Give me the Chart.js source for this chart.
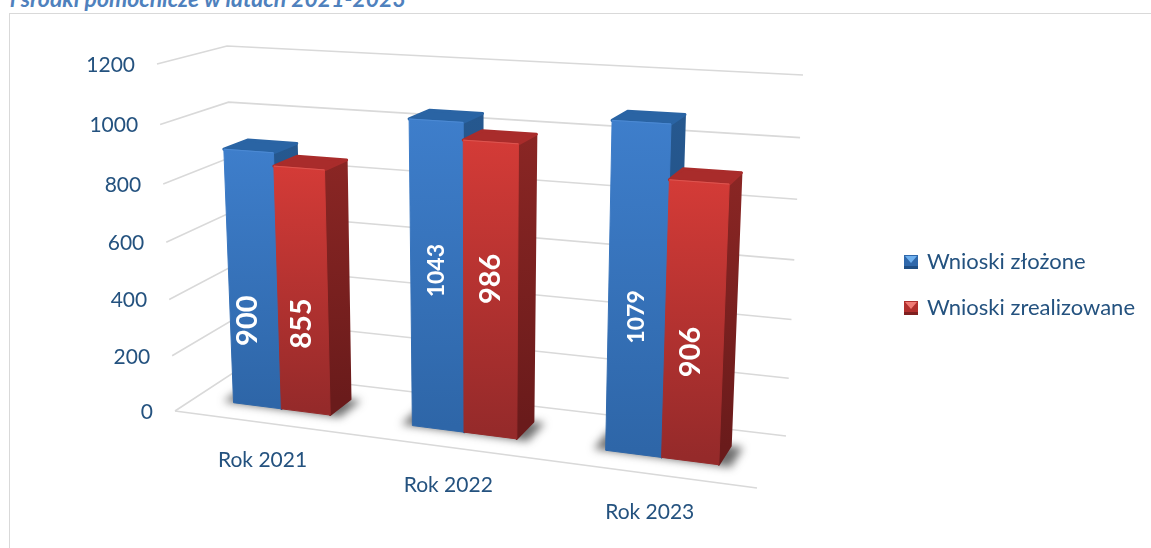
<!DOCTYPE html>
<html lang="pl">
<head>
    <meta charset="UTF-8">
    <title>Wnioski 2021-2023</title>
    <script src="https://cdn.jsdelivr.net/npm/chart.js@4/dist/chart.umd.min.js"></script>
    <style>
      html, body { margin: 0; padding: 0; width: 1151px; height: 548px; overflow: hidden; background: #fff; }
      #heading { position: absolute; left: 10px; top: -16px; font: italic bold 23px Lato, sans-serif; color: #4f81bd; white-space: nowrap; }
      #frame { position: absolute; left: 9px; top: 13px; width: 1160px; height: 560px; border: 1.5px solid #d9d9d9; }
      #chart { position: absolute; left: 0; top: 0; }
    </style>
</head>
<body>
  <div id="heading">i środki pomocnicze w latach 2021-2023</div>
  <div id="frame"></div>
  <canvas id="chart" width="1151" height="548"></canvas>

  <script>
    /* Chart data. */
    const categories = ["Rok 2021", "Rok 2022", "Rok 2023"]
    const seriesNames = ["Wnioski złożone", "Wnioski zrealizowane"]
    const submitted = [900, 1043, 1079]
    const completed = [855, 986, 906]
    const yTicks = [0, 200, 400, 600, 800, 1000, 1200]

    /* Where each value label sits on its bar (share of height, shift in bar widths). */
    const labelShare = [[0.34, 0.525, 0.425], [0.37, 0.545, 0.4]]
    const labelShift = [[-0.13, 0, 0], [-0.03, 0, -0.05]]
    const labelSize = [[29, 23, 23], [29, 29, 29]]

    /* The corners of the 3D box as seen in the picture. */
    const backQuad = [[236, 371], [786, 436], [803, 75], [227, 46]]
    const frontQuad = [[175, 411], [757, 488], [774, 98], [157, 64]]
    const barFront = 0.33
    const barBack = 0.7

    const colors = [
      { top: "#2a64a4", side: ["#26588f", "#1f4d80"], face: ["#3e7ecb", "#2e66a8"], edge: "#4c8ad4" },
      { top: "#a92c2b", side: ["#8a2624", "#6a1b1b"], face: ["#d43b37", "#952a2a"], edge: "#dd5550" }
    ]

    /* Homography from the unit square to a quad. */
    function makeHomography(q) {
      const [[x0, y0], [x1, y1], [x2, y2], [x3, y3]] = q
      const dx1 = x1 - x2, dx2 = x3 - x2, sx = x0 - x1 + x2 - x3
      const dy1 = y1 - y2, dy2 = y3 - y2, sy = y0 - y1 + y2 - y3
      const det = dx1 * dy2 - dx2 * dy1
      const g = (sx * dy2 - dx2 * sy) / det
      const h = (dx1 * sy - sx * dy1) / det
      const a = x1 - x0 + g * x1, b = x3 - x0 + h * x3
      const d = y1 - y0 + g * y1, e = y3 - y0 + h * y3
      return (u, v) => {
        const w = g * u + h * v + 1
        return [(a * u + b * v + x0) / w, (d * u + e * v + y0) / w]
      }
    }
    const backPlane = makeHomography(backQuad)
    const frontPlane = makeHomography(frontQuad)

    /* u: along categories, v: along values, d: 0 front of floor, 1 back wall. */
    function project(u, v, d) {
      const f = frontPlane(u, v), b = backPlane(u, v)
      return [f[0] + (b[0] - f[0]) * d, f[1] + (b[1] - f[1]) * d]
    }

    function polygon(ctx, points) {
      ctx.beginPath()
      points.forEach((p, i) => i ? ctx.lineTo(p[0], p[1]) : ctx.moveTo(p[0], p[1]))
      ctx.closePath()
    }

    function fillFace(ctx, points, fill, round) {
      polygon(ctx, points)
      ctx.fillStyle = fill
      ctx.strokeStyle = fill
      ctx.lineWidth = round
      ctx.lineJoin = "round"
      ctx.fill()
      ctx.stroke()
    }

    function verticalFill(ctx, top, bottom, stops) {
      const g = ctx.createLinearGradient(0, top, 0, bottom)
      g.addColorStop(0, stops[0])
      g.addColorStop(1, stops[1])
      return g
    }

    /* Small bevelled square for the legend. */
    function legendIcon(light, mid, dark) {
      const c = document.createElement("canvas")
      c.width = 14
      c.height = 14
      const x = c.getContext("2d")
      x.fillStyle = mid
      x.fillRect(0, 0, 14, 14)
      x.fillStyle = dark
      x.fillRect(0, 11, 14, 3)
      x.fillStyle = light
      x.beginPath()
      x.moveTo(1, 1)
      x.lineTo(13, 1)
      x.lineTo(7, 8)
      x.closePath()
      x.fill()
      return c
    }

    /* Gridlines and axis text, worked out from the chart's own scales. */
    const boxFloor = {
      id: "boxFloor",
      beforeDatasetsDraw(chart) {
        const ctx = chart.ctx, area = chart.chartArea, yScale = chart.scales.y, xScale = chart.scales.x
        const vOf = tick => (area.bottom - yScale.getPixelForValue(tick)) / area.height
        ctx.save()
        ctx.strokeStyle = "#d9d9d9"
        ctx.lineWidth = 1.6
        yScale.ticks.forEach(t => {
          const v = vOf(t.value)
          const a = project(0, v, 0), b = project(0, v, 1), c = project(1, v, 1)
          ctx.beginPath()
          ctx.moveTo(a[0], a[1])
          ctx.lineTo(b[0], b[1])
          ctx.lineTo(c[0], c[1])
          ctx.stroke()
        })
        const f0 = project(0, 0, 0), f1 = project(1, 0, 0)
        ctx.beginPath()
        ctx.moveTo(f0[0], f0[1])
        ctx.lineTo(f1[0], f1[1])
        ctx.stroke()

        ctx.fillStyle = "#24527f"
        ctx.font = "21px Lato, sans-serif"
        ctx.textAlign = "right"
        ctx.textBaseline = "middle"
        yScale.ticks.forEach(t => {
          const p = project(0, vOf(t.value), 0)
          ctx.fillText(String(t.value), p[0] - 22, p[1] + 1)
        })
        ctx.font = "21px Lato, sans-serif"
        ctx.textAlign = "center"
        categories.forEach((name, i) => {
          const p = project((xScale.getPixelForValue(i) - area.left) / area.width, 0, 0)
          ctx.fillText(name, p[0], p[1] + 38)
        })

        /* Soft shadow under every pair of bars. */
        const first = chart.getDatasetMeta(0).data, second = chart.getDatasetMeta(1).data
        ctx.filter = "blur(4px)"
        ctx.fillStyle = "rgba(50,50,50,0.7)"
        first.forEach((bar, i) => {
          const u0 = (bar.x - bar.width / 2 - area.left) / area.width - 0.02
          const u1 = (second[i].x + second[i].width / 2 - area.left) / area.width + 0.02
          polygon(ctx, [project(u0, 0, barFront), project(u1, 0, barFront - 0.02), project(u1, 0, barBack), project(u0, 0, barBack)])
          ctx.fill()
        })
        ctx.restore()
      }
    }

    /* The bars as boxes, from the positions of the chart's bar elements. */
    const boxBars = {
      id: "boxBars",
      afterDatasetsDraw(chart) {
        const ctx = chart.ctx, area = chart.chartArea
        ctx.save()
        chart.data.datasets.forEach((set, s) => {
          chart.getDatasetMeta(s).data.forEach((bar, i) => {
            const u0 = (bar.x - bar.width / 2 - area.left) / area.width
            const u1 = (bar.x + bar.width / 2 - area.left) / area.width
            const v = (bar.base - bar.y) / area.height
            const c = colors[s]
            const fb = project(u0, 0, barFront), fr = project(u1, 0, barFront)
            const tl = project(u0, v, barFront), tr = project(u1, v, barFront)
            const bt = project(u0, v, barBack), br = project(u1, v, barBack), bb = project(u1, 0, barBack)

            fillFace(ctx, [tr, br, bb, fr], verticalFill(ctx, br[1], bb[1], c.side), 2)
            fillFace(ctx, [tl, tr, br, bt], c.top, 3)
            fillFace(ctx, [fb, fr, tr, tl], verticalFill(ctx, tl[1], fb[1], c.face), 1)

            ctx.strokeStyle = c.edge
            ctx.lineWidth = 1
            ctx.beginPath()
            ctx.moveTo(tl[0], tl[1])
            ctx.lineTo(tr[0], tr[1])
            ctx.stroke()

            /* Rotated white value label. */
            const uMid = (u0 + u1) / 2 + (u1 - u0) * labelShift[s][i]
            const at = project(uMid, v * labelShare[s][i], barFront)
            ctx.save()
            ctx.translate(at[0], at[1])
            ctx.rotate(-Math.PI / 2)
            ctx.fillStyle = "#fff"
            ctx.font = "bold " + labelSize[s][i] + "px Lato, sans-serif"
            ctx.textAlign = "center"
            ctx.textBaseline = "middle"
            ctx.fillText(String(set.data[i]), 0, 0)
            ctx.restore()
          })
        })
        ctx.restore()
      }
    }

    const ctx = document.getElementById("chart").getContext("2d")
    const myChart = new Chart(ctx, {
      type: "bar",
      data: {
        labels: categories,
        datasets: [
          { label: seriesNames[0], data: submitted, backgroundColor: "rgba(0,0,0,0)", pointStyle: legendIcon("#6fb0ee", "#2f68ab", "#1f4f85") },
          { label: seriesNames[1], data: completed, backgroundColor: "rgba(0,0,0,0)", pointStyle: legendIcon("#f07a74", "#b12f2d", "#7f2020") }
        ]
      },
      plugins: [boxFloor, boxBars],
      options: {
        responsive: false,
        animation: false,
        events: [],
        layout: { padding: { top: 50, bottom: 28, left: 60, right: 6 } },
        datasets: { bar: { categoryPercentage: 0.55, barPercentage: 1 } },
        scales: {
          x: { display: false },
          y: { display: false, min: 0, max: 1200, afterBuildTicks: scale => { scale.ticks = yTicks.map(value => ({ value })) } }
        },
        plugins: {
          title: { display: false },
          tooltip: { enabled: false },
          legend: {
            display: true,
            position: "right",
            labels: {
              usePointStyle: true,
              pointStyleWidth: 10,
              font: { family: "Lato, sans-serif", size: 22 },
              color: "#24527f",
              padding: 24
            }
          }
        }
      }
    })
  </script>
</body>
</html>
